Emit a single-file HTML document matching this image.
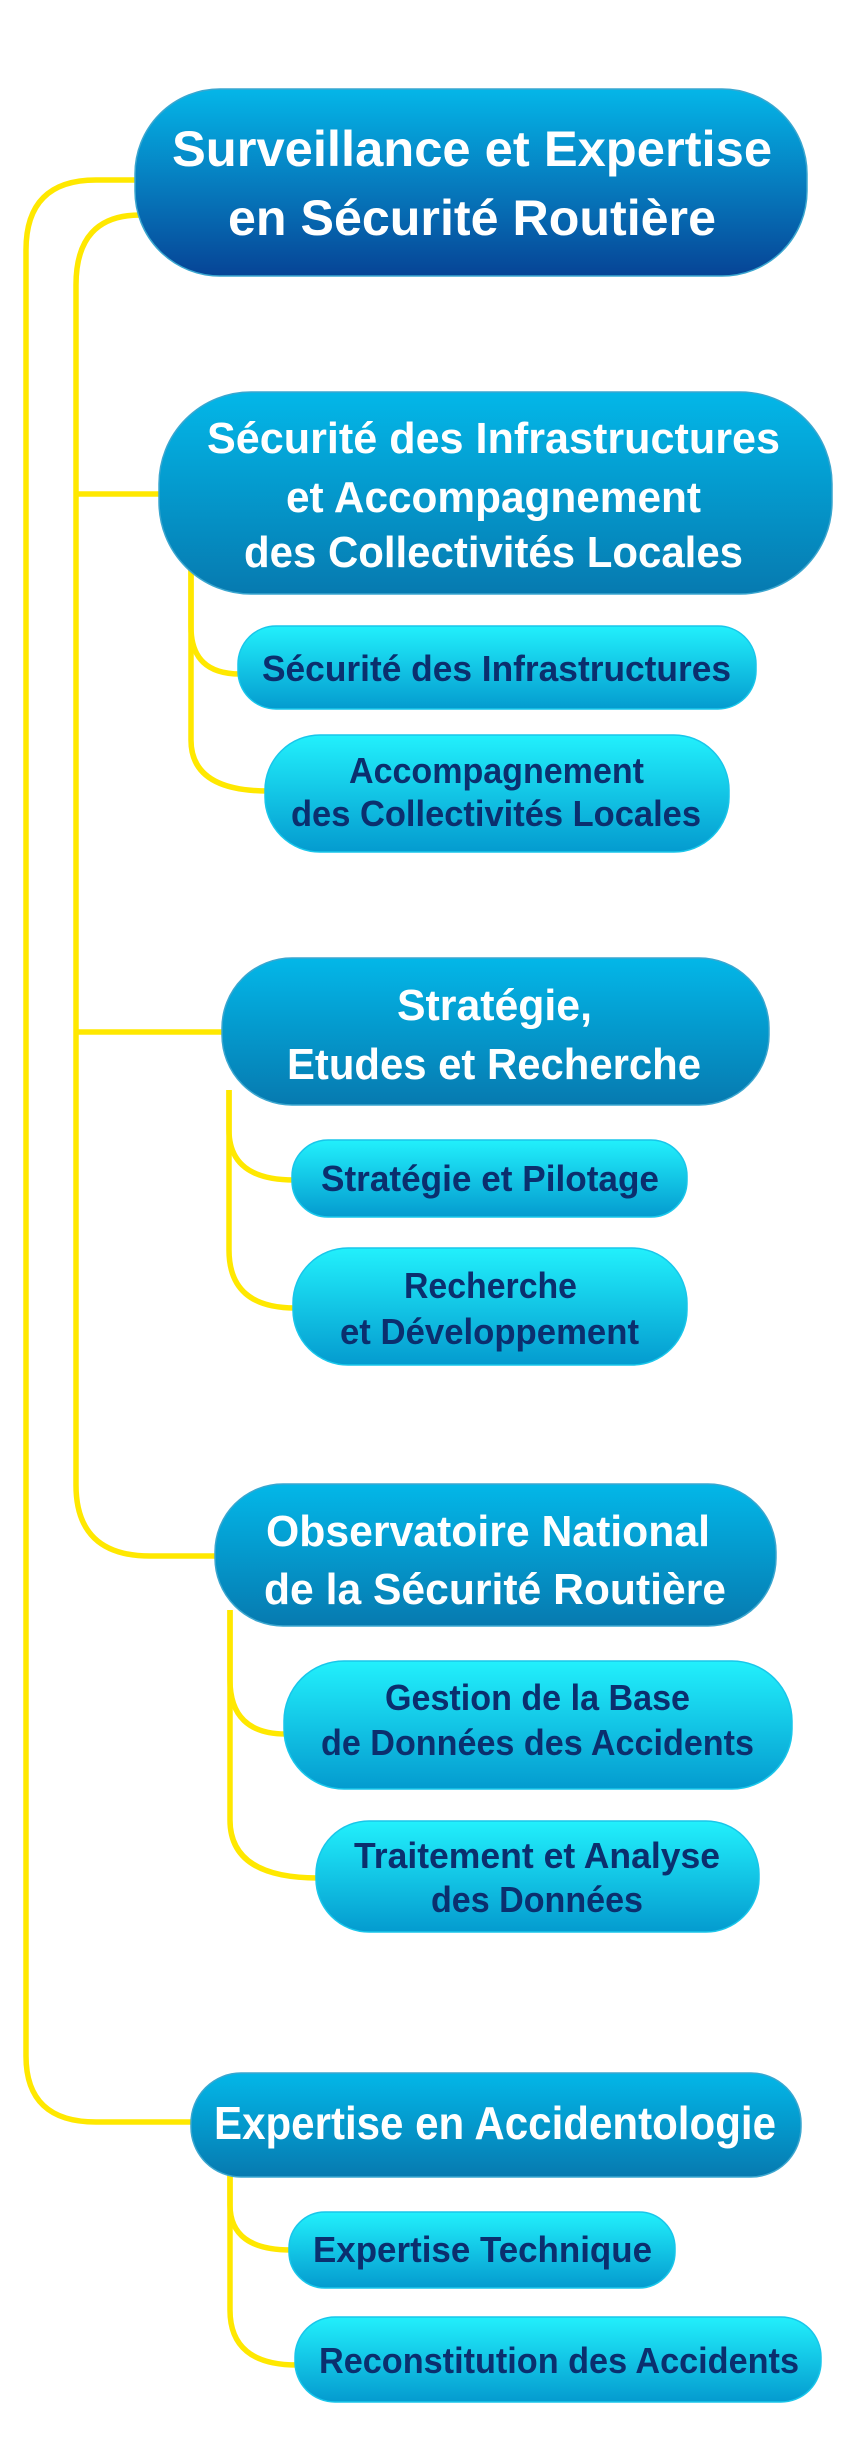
<!DOCTYPE html>
<html><head><meta charset="utf-8"><style>
html,body{margin:0;padding:0;background:#fff;}
svg{display:block}
text{font-family:"Liberation Sans",sans-serif;font-weight:bold;}
</style></head><body>
<svg width="851" height="2460" viewBox="0 0 851 2460" xmlns="http://www.w3.org/2000/svg">
<defs>
<linearGradient id="gr" x1="0" y1="0" x2="0" y2="1"><stop offset="0" stop-color="#05b6e8"/><stop offset="1" stop-color="#064496"/></linearGradient>
<linearGradient id="gm" x1="0" y1="0" x2="0" y2="1"><stop offset="0" stop-color="#03b7e8"/><stop offset="1" stop-color="#067ab0"/></linearGradient>
<linearGradient id="gs" x1="0" y1="0" x2="0" y2="1"><stop offset="0" stop-color="#22f0fc"/><stop offset="1" stop-color="#049bcf"/></linearGradient>
</defs>
<g fill="none" stroke="#ffe800" stroke-width="5.5">
<path d="M140 180 H96 Q26 180 26 250 V2056 Q26 2122 96 2122 H195"/>
<path d="M145 215 H140 Q76 215 76 285 V1485 Q76 1556 150 1556 H218"/>
<path d="M76 494 H165"/>
<path d="M76 1032 H225"/>
<path d="M191 560 V627 Q191 674 240 674"/>
<path d="M191 560 V740 Q191 791 268 791"/>
<path d="M229 1090 V1130 Q229 1180 294 1180"/>
<path d="M229 1090 V1250 Q229 1308 295 1308"/>
<path d="M230 1610 V1680 Q230 1734 286 1734"/>
<path d="M230 1610 V1820 Q230 1878 318 1878"/>
<path d="M230 2170 V2205 Q230 2250 291 2250"/>
<path d="M230 2170 V2310 Q230 2365 297 2365"/>
</g>
<g stroke="#3aa6cf" stroke-width="1.5">
<rect x="135" y="89" width="672" height="187" rx="85" fill="url(#gr)"/>
<rect x="159" y="392" width="673" height="202" rx="92" fill="url(#gm)"/>
<rect x="222" y="958" width="547" height="147" rx="70" fill="url(#gm)"/>
<rect x="215" y="1484" width="561" height="142" rx="68" fill="url(#gm)"/>
<rect x="191" y="2073" width="610" height="104" rx="50" fill="url(#gm)"/>
</g>
<g stroke="#19c6ea" stroke-width="1.5" fill="url(#gs)">
<rect x="238" y="626" width="518" height="83" rx="38"/>
<rect x="265" y="735" width="464" height="117" rx="55"/>
<rect x="292" y="1140" width="395" height="77" rx="36"/>
<rect x="293" y="1248" width="394" height="117" rx="55"/>
<rect x="284" y="1661" width="508" height="128" rx="60"/>
<rect x="316" y="1821" width="443" height="111" rx="53"/>
<rect x="289" y="2212" width="386" height="76" rx="36"/>
<rect x="295" y="2317" width="526" height="85" rx="40"/>
</g>
<g fill="#fff">
<text x="172" y="166" font-size="50" textLength="600" lengthAdjust="spacingAndGlyphs">Surveillance et Expertise</text>
<text x="228" y="235" font-size="50" textLength="488" lengthAdjust="spacingAndGlyphs">en Sécurité Routière</text>
<text x="207" y="453" font-size="44" textLength="573" lengthAdjust="spacingAndGlyphs">Sécurité des Infrastructures</text>
<text x="286" y="512" font-size="44" textLength="415" lengthAdjust="spacingAndGlyphs">et Accompagnement</text>
<text x="244" y="567" font-size="44" textLength="499" lengthAdjust="spacingAndGlyphs">des Collectivités Locales</text>
<text x="397" y="1020" font-size="44" textLength="195" lengthAdjust="spacingAndGlyphs">Stratégie,</text>
<text x="287" y="1079" font-size="44" textLength="414" lengthAdjust="spacingAndGlyphs">Etudes et Recherche</text>
<text x="266" y="1546" font-size="44" textLength="444" lengthAdjust="spacingAndGlyphs">Observatoire National</text>
<text x="264" y="1604" font-size="44" textLength="462" lengthAdjust="spacingAndGlyphs">de la Sécurité Routière</text>
<text x="214" y="2139" font-size="46" textLength="562" lengthAdjust="spacingAndGlyphs">Expertise en Accidentologie</text>
</g>
<g fill="#0b2f6e">
<text x="262" y="681" font-size="36" textLength="469" lengthAdjust="spacingAndGlyphs">Sécurité des Infrastructures</text>
<text x="349" y="783" font-size="36" textLength="295" lengthAdjust="spacingAndGlyphs">Accompagnement</text>
<text x="291" y="826" font-size="36" textLength="410" lengthAdjust="spacingAndGlyphs">des Collectivités Locales</text>
<text x="321" y="1191" font-size="36" textLength="338" lengthAdjust="spacingAndGlyphs">Stratégie et Pilotage</text>
<text x="404" y="1298" font-size="36" textLength="173" lengthAdjust="spacingAndGlyphs">Recherche</text>
<text x="340" y="1344" font-size="36" textLength="299" lengthAdjust="spacingAndGlyphs">et Développement</text>
<text x="385" y="1710" font-size="36" textLength="305" lengthAdjust="spacingAndGlyphs">Gestion de la Base</text>
<text x="321" y="1755" font-size="36" textLength="433" lengthAdjust="spacingAndGlyphs">de Données des Accidents</text>
<text x="354" y="1868" font-size="36" textLength="366" lengthAdjust="spacingAndGlyphs">Traitement et Analyse</text>
<text x="431" y="1912" font-size="36" textLength="212" lengthAdjust="spacingAndGlyphs">des Données</text>
<text x="313" y="2262" font-size="36" textLength="339" lengthAdjust="spacingAndGlyphs">Expertise Technique</text>
<text x="319" y="2373" font-size="36" textLength="480" lengthAdjust="spacingAndGlyphs">Reconstitution des Accidents</text>
</g>
</svg>
</body></html>
